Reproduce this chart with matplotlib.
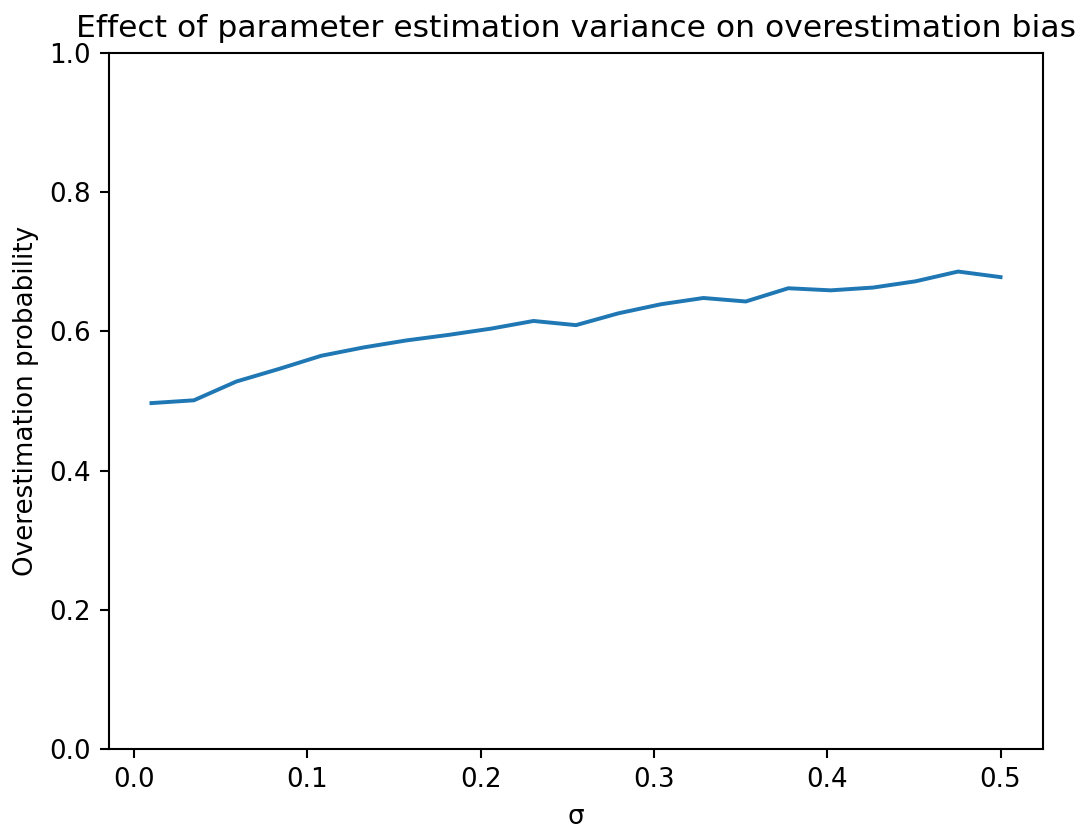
import numpy as np
import matplotlib
matplotlib.use("Agg")
import matplotlib.pyplot as plt

sigma = [0.01, 0.0345, 0.059, 0.0835, 0.108, 0.1325, 0.157, 0.1815, 0.206, 0.2305,
         0.255, 0.2795, 0.304, 0.3285, 0.353, 0.3775, 0.402, 0.4265, 0.451, 0.4755, 0.5]
overest_prob = [0.497, 0.501, 0.528, 0.546, 0.565, 0.577, 0.587, 0.595, 0.604, 0.615,
                0.609, 0.626, 0.639, 0.648, 0.643, 0.662, 0.659, 0.663, 0.672, 0.686, 0.678]

dpi = 188
W, H = 1079, 825
fig = plt.figure(figsize=(W / dpi, H / dpi), dpi=dpi)
left, right, top, bottom = 109, 1043, 53, 749
ax = fig.add_axes([left / W, (H - bottom) / H, (right - left) / W, (bottom - top) / H])
ax.plot(sigma, overest_prob, color="#1f77b4", linewidth=1.5)
ax.set_ylim(0, 1)
ax.set_xlabel("σ")
ax.set_ylabel("Overestimation probability")
ax.set_title("Effect of parameter estimation variance on overestimation bias")
fig.savefig("out.png", dpi=dpi)
